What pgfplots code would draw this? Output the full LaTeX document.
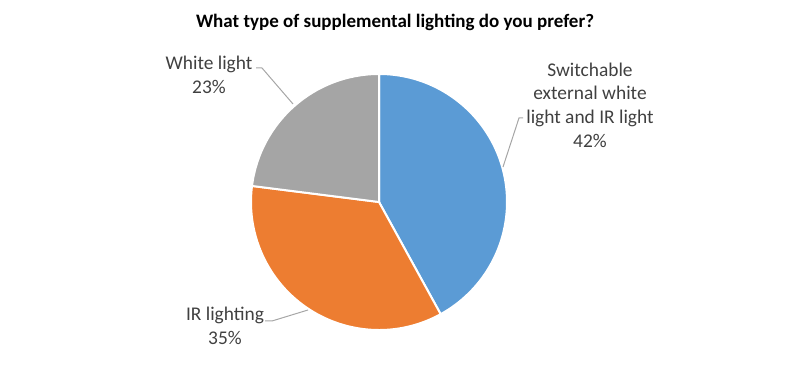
\documentclass[border=0pt]{standalone}
\usepackage{pgfplots}
\pgfplotsset{compat=1.18}
\usepackage{fontspec}
\setmainfont{Carlito}
\definecolor{pieblue}{HTML}{5B9BD5}
\definecolor{pieorange}{HTML}{ED7D31}
\definecolor{piegray}{HTML}{A5A5A5}
\definecolor{labeltext}{HTML}{404040}
\definecolor{leader}{HTML}{A6A6A6}
\begin{document}
\begin{tikzpicture}
\begin{axis}[scale only axis, width=400pt, height=184pt,
  xmin=0, xmax=800, ymin=-368, ymax=0, hide axis, clip=false]
\path (axis cs:0,0) (axis cs:800,-368);
\pgfmathsetmacro\angstart{90}
\foreach \v/\c in {42/pieblue,35/pieorange,23/piegray}{
  \pgfmathsetmacro\angend{\angstart-3.6*\v}
  \edef\temp{\noexpand\fill[\c, draw=white, line width=1pt] (axis cs:379,-202) -- ++(\angstart:64pt) arc[start angle=\angstart, end angle=\angend, radius=64pt] -- cycle;}
  \temp
  \global\let\angstart\angend
}
\addplot[leader, line width=0.5pt, mark=none] coordinates {(523,-118) (519,-118) (503,-167)};
\addplot[leader, line width=0.5pt, mark=none] coordinates {(256,-68) (262,-68) (293,-104)};
\addplot[leader, line width=0.5pt, mark=none] coordinates {(265,-321) (272,-321) (308,-310)};
\node[font=\fontsize{9.7}{11.8}\selectfont, text=labeltext, align=center] at (axis cs:590,-105) {Switchable\\external white\\light and IR light\\42\%};
\node[font=\fontsize{9.7}{11.8}\selectfont, text=labeltext, align=center] at (axis cs:209,-75) {White light\\23\%};
\node[font=\fontsize{9.7}{11.8}\selectfont, text=labeltext, align=center] at (axis cs:225,-326) {IR lighting\\35\%};
\node[font=\fontsize{9.5}{12}\bfseries, text=black] at (axis cs:395,-22) {What type of supplemental lighting do you prefer?};
\end{axis}
\end{tikzpicture}
\end{document}
